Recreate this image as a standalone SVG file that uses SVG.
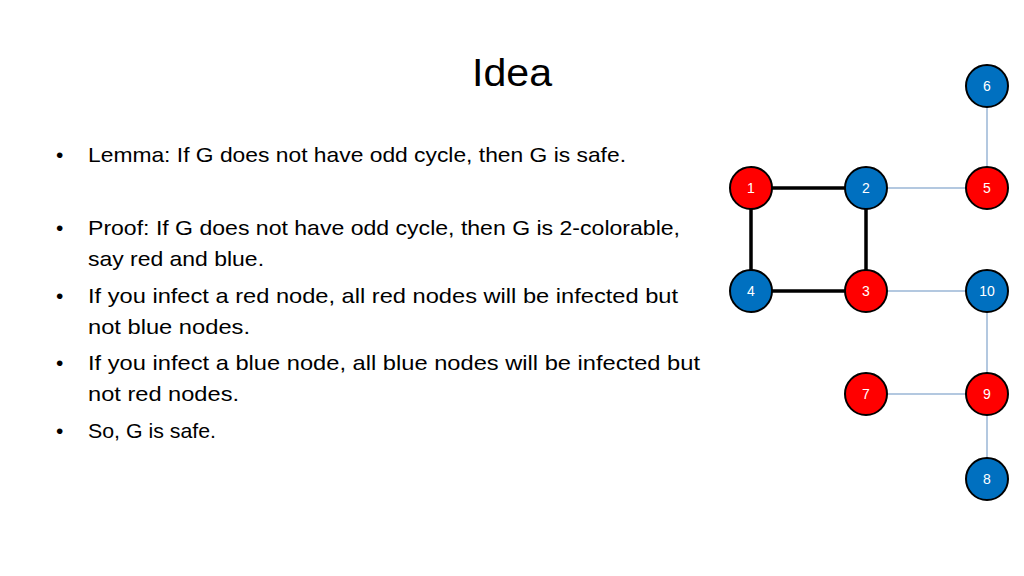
<svg xmlns="http://www.w3.org/2000/svg" width="1024" height="576" viewBox="0 0 1024 576">
<style>
.t{font-family:"Liberation Sans",Arial,sans-serif;font-size:21px;fill:#000}
.n circle{stroke:#000;stroke-width:2}
.r circle{fill:#f00}.b circle{fill:#0070c0}
.n text{font-family:"Liberation Sans",Arial,sans-serif;font-size:14px;fill:#fff;text-anchor:middle}
.thick{stroke:#000;stroke-width:3.5}
.thin{stroke:#9ab6d6;stroke-width:1.5}
</style>
<rect width="1024" height="576" fill="#fff"/>
<text x="512" y="86" font-family="Liberation Sans,Arial,sans-serif" font-size="38" text-anchor="middle" textLength="80" lengthAdjust="spacingAndGlyphs">Idea</text>
<g class="t">
<text x="56" y="162">•</text><text x="88" y="162" textLength="538" lengthAdjust="spacingAndGlyphs">Lemma: If G does not have odd cycle, then G is safe.</text>
<text x="56" y="235">•</text><text x="88" y="235" textLength="592" lengthAdjust="spacingAndGlyphs">Proof: If G does not have odd cycle, then G is 2-colorable,</text>
<text x="88" y="266" textLength="176" lengthAdjust="spacingAndGlyphs">say red and blue.</text>
<text x="56" y="303">•</text><text x="88" y="303" textLength="590" lengthAdjust="spacingAndGlyphs">If you infect a red node, all red nodes will be infected but</text>
<text x="88" y="334" textLength="162" lengthAdjust="spacingAndGlyphs">not blue nodes.</text>
<text x="56" y="370">•</text><text x="88" y="370" textLength="612" lengthAdjust="spacingAndGlyphs">If you infect a blue node, all blue nodes will be infected but</text>
<text x="88" y="401" textLength="151" lengthAdjust="spacingAndGlyphs">not red nodes.</text>
<text x="56" y="438">•</text><text x="88" y="438" textLength="128" lengthAdjust="spacingAndGlyphs">So, G is safe.</text>
</g>
<g id="edges">
<line class="thick" x1="751" y1="188" x2="866" y2="188"/>
<line class="thick" x1="751" y1="188" x2="751" y2="291"/>
<line class="thick" x1="866" y1="188" x2="866" y2="291"/>
<line class="thick" x1="751" y1="291" x2="866" y2="291"/>
<line class="thin" x1="866" y1="188" x2="987" y2="188"/>
<line class="thin" x1="866" y1="291" x2="987" y2="291"/>
<line class="thin" x1="987" y1="86" x2="987" y2="188"/>
<line class="thin" x1="987" y1="291" x2="987" y2="394"/>
<line class="thin" x1="866" y1="394" x2="987" y2="394"/>
<line class="thin" x1="987" y1="394" x2="987" y2="479"/>
</g>
<g id="n1" class="n r"><circle cx="751" cy="188" r="21"/><text x="751" y="193">1</text></g>
<g id="n2" class="n b"><circle cx="866" cy="188" r="21"/><text x="866" y="193">2</text></g>
<g id="n5" class="n r"><circle cx="987" cy="188" r="21"/><text x="987" y="193">5</text></g>
<g id="n6" class="n b"><circle cx="987" cy="86" r="21"/><text x="987" y="91">6</text></g>
<g id="n4" class="n b"><circle cx="751" cy="291" r="21"/><text x="751" y="296">4</text></g>
<g id="n3" class="n r"><circle cx="866" cy="291" r="21"/><text x="866" y="296">3</text></g>
<g id="n10" class="n b"><circle cx="987" cy="291" r="21"/><text x="987" y="296">10</text></g>
<g id="n7" class="n r"><circle cx="866" cy="394" r="21"/><text x="866" y="399">7</text></g>
<g id="n9" class="n r"><circle cx="987" cy="394" r="21"/><text x="987" y="399">9</text></g>
<g id="n8" class="n b"><circle cx="987" cy="479" r="21"/><text x="987" y="484">8</text></g>
</svg>
